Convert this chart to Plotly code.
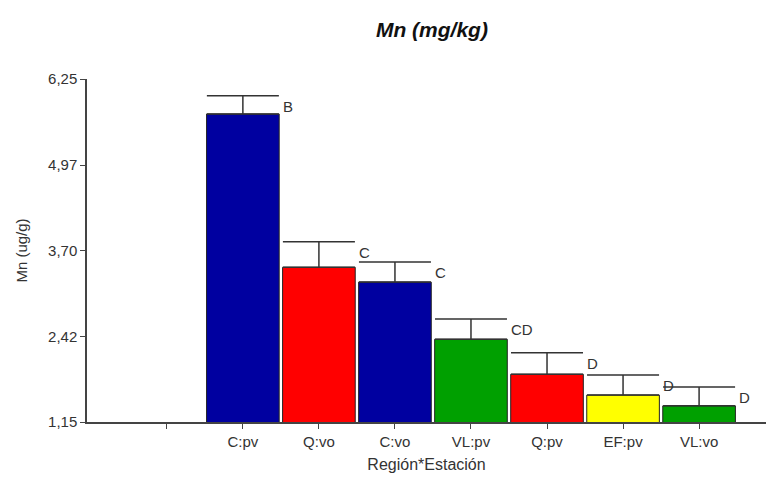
import plotly.graph_objects as go

categories = ["C:pv", "Q:vo", "C:vo", "VL:pv", "Q:pv", "EF:pv", "VL:vo"]
means = [5.73, 3.45, 3.23, 2.38, 1.86, 1.55, 1.39]
upper = [6.00, 3.83, 3.53, 2.68, 2.18, 1.85, 1.67]
letters = ["B", "C", "C", "CD", "D", "D", "D"]
colors = ["#0000A0", "#FF0000", "#0000A0", "#00A000", "#FF0000", "#FFFF00", "#00A000"]
ytick_vals = [1.15, 2.42, 3.70, 4.97, 6.25]
ytick_text = ["1,15", "2,42", "3,70", "4,97", "6,25"]
all_cats = [" "] + categories

font_family = "Liberation Sans, Arial, sans-serif"
txt = "#333333"

fig = go.Figure()
fig.add_trace(go.Scatter(x=[" "], y=[None], mode="markers", showlegend=False,
                         hoverinfo="skip"))
fig.add_trace(go.Bar(
    x=categories, y=means, width=0.955,
    marker=dict(color=colors, line=dict(color="#222222", width=1)),
    error_y=dict(type="data", symmetric=False,
                 array=[u - m for u, m in zip(upper, means)],
                 arrayminus=[0] * len(means),
                 color="#333333", thickness=1.5, width=36),
    showlegend=False,
))

for c, u, l in zip(categories, upper, letters):
    fig.add_annotation(x=c, y=u, text=l, showarrow=False, xanchor="left",
                       yanchor="top", xshift=38, yshift=0,
                       font=dict(family=font_family, size=15, color=txt))

fig.update_layout(
    width=766, height=477,
    margin=dict(l=87, r=0, t=79, b=55),
    plot_bgcolor="white", paper_bgcolor="white",
    title=dict(text="<b><i>Mn (mg/kg)</i></b>", x=0.508, xref="paper",
               xanchor="center", y=0.937, yanchor="middle",
               font=dict(family=font_family, size=21, color="#111111")),
    xaxis=dict(type="category", categoryorder="array", categoryarray=all_cats,
               range=[-1.05, 7.88], showline=True, linecolor="#444444",
               linewidth=1.5, ticks="outside", ticklen=5, tickcolor="#444444",
               showgrid=False, zeroline=False,
               tickfont=dict(family=font_family, size=15, color=txt),
               title=dict(text="Región*Estación", standoff=10,
                          font=dict(family=font_family, size=16, color=txt))),
    yaxis=dict(range=[1.15, 6.25], tickvals=ytick_vals, ticktext=ytick_text,
               showline=True, linecolor="#444444", linewidth=1.5,
               ticks="outside", ticklen=5, tickcolor="#444444",
               showgrid=False, zeroline=False,
               tickfont=dict(family=font_family, size=15, color=txt),
               title=dict(text="Mn (ug/g)", standoff=17,
                          font=dict(family=font_family, size=15, color=txt))),
    bargap=0.05,
)

fig.write_html("out.html")
